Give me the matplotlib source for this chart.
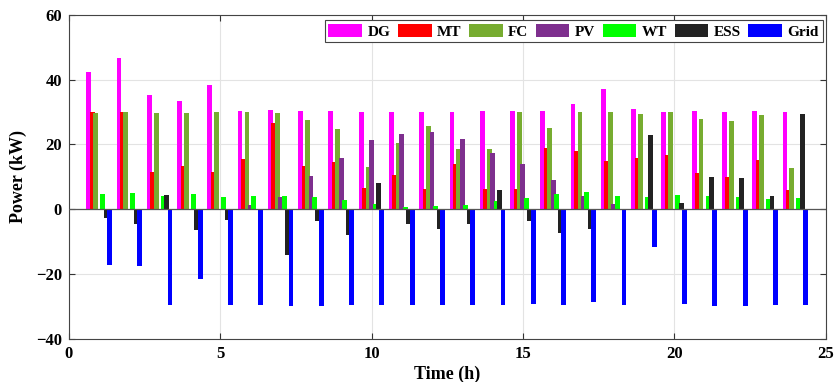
import numpy as np
import matplotlib
matplotlib.use("Agg")
import matplotlib.pyplot as plt

plt.rcParams['font.family'] = ['Liberation Serif', 'DejaVu Serif']
plt.rcParams['font.weight'] = 'bold'

hours = np.arange(1, 25)

dg = [42.3, 46.8, 35.3, 33.4, 38.4, 30.3, 30.7, 30.2, 30.3, 29.9, 30.0, 30.0,
      29.9, 30.3, 30.4, 30.3, 32.4, 37.1, 30.9, 29.9, 30.3, 29.9, 30.3, 29.9]
mt = [29.9, 29.9, 11.4, 13.3, 11.6, 15.5, 26.5, 13.3, 14.6, 6.7, 10.5, 6.3,
      14.1, 6.1, 6.3, 18.8, 17.9, 14.8, 15.9, 16.7, 11.3, 10.0, 15.1, 6.0]
fc = [29.6, 29.9, 29.6, 29.8, 29.9, 29.9, 29.8, 27.5, 24.9, 13.1, 20.5, 25.7,
      18.5, 18.6, 29.9, 25.2, 29.9, 29.9, 29.5, 29.9, 27.8, 27.4, 29.2, 12.6]
pv = [0, 0, 0, 0, 0, 1.4, 3.9, 10.2, 15.9, 21.3, 23.3, 23.7,
      21.6, 17.5, 13.9, 9.0, 4.1, 1.5, 0, 0, 0, 0, 0, 0]
wt = [4.8, 5.1, 4.0, 4.7, 3.7, 4.0, 4.0, 3.7, 3.0, 1.5, 0.6, 1.0,
      1.4, 2.5, 3.5, 4.6, 5.2, 4.2, 3.7, 4.3, 4.1, 3.7, 3.1, 3.5]
ess = [-2.7, -4.7, 4.5, -6.5, -3.2, 0, -14.0, -3.6, -8.0, 8.1, -4.4, -6.0,
       -4.7, 5.9, -3.7, -7.2, -6.2, -0.3, 22.9, 1.8, 10.0, 9.8, 4.2, 29.5]
grid = [-17.1, -17.5, -29.5, -21.6, -29.5, -29.7, -29.9, -29.9, -29.7, -29.7, -29.5, -29.7,
        -29.7, -29.7, -29.2, -29.7, -28.7, -29.7, -11.6, -29.2, -29.9, -29.9, -29.7, -29.7]

names = ['DG', 'MT', 'FC', 'PV', 'WT', 'ESS', 'Grid']
series = [dg, mt, fc, pv, wt, ess, grid]
colors = ['#FF00FF', '#FF0000', '#77AC30', '#7E2F8E', '#00FF00', '#222222', '#0000FF']

fig = plt.figure(figsize=(8.39, 3.82), dpi=100)
ax = fig.add_axes([0.082, 0.113, 0.902, 0.848])

# grouped bars, 7 per hour, slightly overlapping like the original
slot = 0.8 / 7
for i, (name, vals, col) in enumerate(zip(names, series, colors)):
    ax.bar(hours + (i - 3) * slot, vals, width=0.16, color=col, label=name, zorder=3)

ax.axhline(0, color='#555555', lw=0.9, zorder=4)
ax.set_xlim(0, 25)
ax.set_ylim(-40, 60)
ax.set_xticks(range(0, 26, 5))
ax.set_yticks(range(-40, 61, 20))
ax.grid(True, color='#e3e3e3', lw=0.8, zorder=0)
ax.tick_params(direction='in', top=True, right=True, labelsize=12, length=4,
               color='#333333', pad=5)
for s in ax.spines.values():
    s.set_color('#444444')
for lab in ax.get_xticklabels() + ax.get_yticklabels():
    lab.set_fontweight('bold')

ax.set_xlabel('Time (h)', fontsize=13, fontweight='bold', labelpad=3)
ax.set_ylabel('Power (kW)', fontsize=13, fontweight='bold', labelpad=6)

leg = ax.legend(ncol=7, loc='upper right', bbox_to_anchor=(0.996, 0.985),
                prop={'size': 11, 'weight': 'bold'}, frameon=True, fancybox=False,
                edgecolor='#444444', framealpha=1, handlelength=2.2, handleheight=1.0,
                handletextpad=0.35, columnspacing=0.5, borderpad=0.25, borderaxespad=0)
leg.get_frame().set_linewidth(0.8)

fig.savefig('out.png', dpi=100)
